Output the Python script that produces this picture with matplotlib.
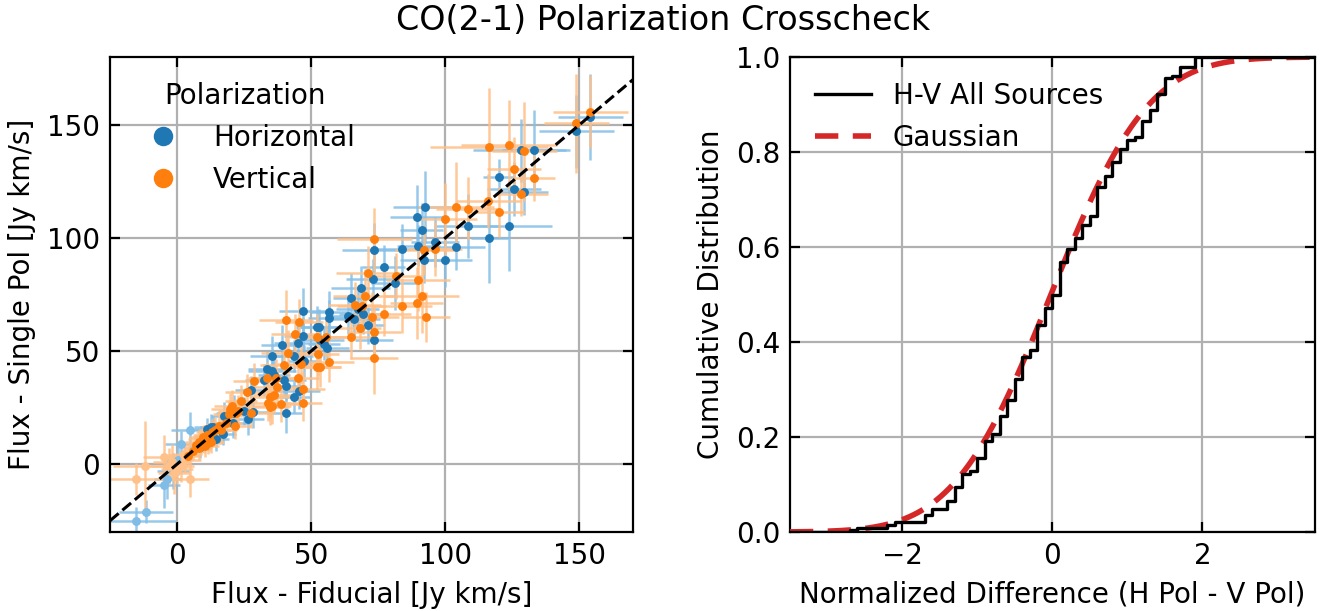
import math
import numpy as np
import matplotlib
matplotlib.use("Agg")
import matplotlib.pyplot as plt
from matplotlib.lines import Line2D
from matplotlib.colors import to_rgba

# ---------------- data: left panel ----------------
# Horizontal polarization (detected)
h_x = [154.1, 148.9, 128.4, 133.0, 120.1, 125.7, 129.5, 123.8, 116.5, 108.4,
       92.6, 89.3, 91.2, 96.3, 104.0, 99.9, 92.2, 89.9, 83.9, 73.5,
       77.1, 81.3, 72.9, 68.5, 65.0, 63.9, 65.8, 69.5, 67.4, 71.3,
       73.5, 56.8, 56.8, 47.1, 52.2, 53.0, 53.2, 54.7, 56.0, 46.8,
       45.2, 39.2, 43.7, 47.5, 35.3, 33.6, 35.4, 36.2, 39.9, 40.8,
       43.6, 45.4, 40.6, 32.5, 27.6, 25.0, 26.3, 21.4, 17.6, 20.7,
       28.5, 17.0, 12.5, 11.3, 8.7, 14.5, 10.0, 13.5]
h_y = [153.4, 147.1, 138.7, 138.7, 127.0, 121.8, 120.1, 105.4, 100.1, 105.3,
       113.8, 109.4, 103.5, 98.1, 95.9, 90.3, 90.3, 96.6, 95.0, 94.6,
       87.0, 80.1, 81.8, 77.7, 73.3, 65.7, 64.3, 66.6, 68.4, 61.3,
       54.8, 67.4, 64.5, 67.9, 60.7, 60.7, 54.8, 53.0, 51.5, 56.8,
       53.7, 52.5, 47.8, 45.6, 47.8, 41.9, 41.2, 39.4, 37.3, 34.5,
       29.7, 32.3, 22.7, 37.3, 33.0, 23.5, 20.0, 22.4, 21.3, 18.4,
       22.9, 13.3, 16.3, 15.5, 7.5, 11.0, 9.5, 16.5]
h_xerr = [12, 14, 18, 12, 6, 10, 9, 16, 7, 12,
          12, 10, 8, 9, 11, 10, 9, 8, 11, 12,
          8, 9, 10, 11, 7, 8, 10, 9, 8, 6,
          7, 7, 8, 9, 8, 7, 9, 6, 8, 7,
          9, 8, 7, 6, 8, 7, 9, 6, 8, 7,
          6, 8, 6, 7, 6, 5, 6, 7, 5, 6,
          6, 5, 6, 5, 4, 5, 4, 5]
h_yerr = [19, 16, 14, 18, 8, 12, 10, 20, 20, 14,
          16, 14, 12, 11, 10, 12, 10, 9, 11, 12,
          10, 12, 9, 10, 11, 8, 9, 9, 10, 8,
          9, 9, 8, 10, 9, 8, 8, 7, 9, 8,
          8, 9, 7, 7, 9, 8, 7, 8, 7, 6,
          7, 8, 9, 7, 6, 6, 7, 8, 6, 7,
          7, 5, 6, 5, 5, 5, 4, 5]

# Horizontal polarization (faint / low S/N)
hf_x = [-15.4, -11.6, -4.8, -3.6, 4.8, 1.6, 0.5, -1.5]
hf_y = [-25.0, -21.0, -9.3, -6.6, 15.0, 8.8, 2.0, -3.0]
hf_xerr = [15, 10, 6, 5, 7, 6, 5, 6]
hf_yerr = [6, 5, 10, 9, 8, 6, 7, 8]

# Vertical polarization (detected)
v_x = [154.1, 148.9, 116.5, 123.8, 129.5, 125.7, 133.0, 128.4, 116.1, 119.9,
       108.4, 104.0, 99.9, 96.3, 92.2, 73.5, 71.3, 81.5, 89.9, 91.2,
       89.3, 83.9, 77.1, 92.7, 70.1, 66.2, 68.8, 72.8, 73.4, 65.0,
       68.2, 73.5, 40.7, 45.5, 44.0, 52.2, 55.4, 52.4, 56.8, 52.2,
       53.2, 41.3, 46.2, 40.0, 36.8, 45.1, 47.1, 37.4, 34.8, 34.8,
       47.1, 28.8, 26.0, 22.8, 21.5, 19.6, 33.6, 36.1, 34.0, 38.9,
       23.7, 20.6, 19.3, 21.8, 18.1, 27.4, 35.4, 6.0, 7.0, 8.0,
       9.0, 9.5, 10.0, 11.0, 12.0, 12.5, 13.0, 8.0, 10.5, 14.0,
       15.5, 4.2, 16.5, 11.5]
v_y = [155.9, 150.7, 140.2, 141.2, 138.3, 130.5, 126.5, 119.6, 116.3, 111.6,
       112.9, 113.8, 108.5, 95.2, 94.7, 99.4, 84.5, 83.2, 81.5, 74.2,
       71.3, 70.1, 66.6, 65.0, 74.2, 70.4, 69.8, 65.0, 58.4, 56.3,
       60.1, 46.8, 63.8, 62.9, 57.6, 56.3, 56.2, 48.8, 45.2, 43.0,
       43.0, 49.3, 44.4, 43.7, 38.3, 38.3, 33.1, 33.9, 29.5, 25.1,
       27.0, 36.8, 31.7, 23.6, 17.0, 24.3, 38.2, 30.4, 27.2, 26.5,
       27.9, 25.7, 22.0, 22.8, 18.4, 22.8, 25.7, 6.0, 8.5, 10.0,
       9.0, 12.0, 11.0, 13.0, 12.0, 10.0, 14.0, 7.0, 8.0, 15.0,
       17.0, 3.8, 15.0, 9.5]
v_xerr = [14, 12, 22, 18, 12, 10, 8, 10, 12, 10,
          12, 14, 12, 10, 11, 14, 12, 10, 12, 14,
          10, 11, 10, 9, 12, 10, 9, 10, 10, 9,
          8, 9, 10, 9, 9, 10, 9, 8, 9, 9,
          8, 10, 9, 9, 8, 8, 8, 9, 8, 7,
          7, 8, 8, 7, 6, 7, 7, 7, 8, 7,
          6, 7, 6, 6, 6, 7, 7, 4, 5, 5,
          5, 5, 6, 5, 6, 5, 6, 5, 5, 6,
          6, 4, 6, 5]
v_yerr = [16, 22, 26, 20, 22, 14, 10, 10, 12, 11,
          14, 20, 16, 12, 11, 14, 12, 10, 14, 16,
          16, 12, 10, 11, 12, 10, 9, 11, 12, 10,
          9, 16, 13, 10, 9, 10, 9, 10, 9, 10,
          9, 10, 9, 9, 8, 10, 8, 8, 9, 8,
          8, 8, 8, 7, 6, 7, 7, 8, 8, 8,
          7, 7, 6, 6, 6, 7, 8, 4, 5, 5,
          5, 5, 6, 5, 6, 5, 6, 5, 5, 6,
          7, 4, 6, 5]

# Vertical polarization (faint / low S/N)
vf_x = [-15.4, -12.0, -4.8, -2.0, 0.0, 2.5, 4.8, -1.0, 1.5, 3.0, -3.0]
vf_y = [-6.6, -1.0, 3.0, 1.0, -2.0, 4.0, -6.6, -4.0, -1.0, 2.0, -1.0]
vf_xerr = [15, 12, 8, 7, 6, 6, 7, 6, 5, 6, 7]
vf_yerr = [7, 20, 10, 8, 7, 6, 8, 9, 7, 6, 8]

# ---------------- data: right panel ----------------
# cumulative distribution of normalized H-V difference (bin edge, level after edge)
cdf_edges = [-2.7, -2.6, -2.2, -2.1, -1.7, -1.6, -1.4, -1.3, -1.2, -1.1,
             -1.0, -0.9, -0.8, -0.7, -0.6, -0.5, -0.4, -0.3, -0.2, -0.1,
             0.0, 0.1, 0.2, 0.3, 0.4, 0.5, 0.6, 0.7, 0.8, 0.9,
             1.0, 1.1, 1.2, 1.3, 1.4, 1.5, 1.6, 1.7, 1.9]
cdf_levels = [0.004, 0.008, 0.014, 0.021, 0.036, 0.048, 0.065, 0.095, 0.123, 0.128,
              0.156, 0.192, 0.207, 0.244, 0.277, 0.323, 0.368, 0.384, 0.436, 0.472,
              0.499, 0.568, 0.596, 0.619, 0.647, 0.665, 0.727, 0.750, 0.778, 0.807,
              0.826, 0.832, 0.865, 0.888, 0.923, 0.955, 0.961, 0.979, 1.0]
gauss_mu = -0.02
gauss_sigma = 1.02

# ---------------- figure ----------------
plt.rcParams['font.family'] = ['DejaVu Sans']
plt.rcParams['font.size'] = 10

fig = plt.figure(figsize=(6.635, 3.055), dpi=200)
ax1 = fig.add_axes([0.0829, 0.1293, 0.3941, 0.7774])
ax2 = fig.add_axes([0.5953, 0.1293, 0.3956, 0.7774])

blue = '#1f77b4'
orange = '#ff7f0e'

for ax in (ax1, ax2):
    ax.grid(True, color='#b0b0b0', linewidth=0.8)
    ax.set_axisbelow(True)
    ax.tick_params(direction='in', top=True, right=True, length=3.5, width=0.8,
                   labelsize=10)

# error bars (light)
for xs, ys, xe, ye, c in [(h_x, h_y, h_xerr, h_yerr, '#85bfe6'),
                          (hf_x, hf_y, hf_xerr, hf_yerr, '#85bfe6'),
                          (v_x, v_y, v_xerr, v_yerr, '#ffbf87'),
                          (vf_x, vf_y, vf_xerr, vf_yerr, '#ffbf87')]:
    ax1.errorbar(xs, ys, xerr=xe, yerr=ye, fmt='none', ecolor=to_rgba(c, 0.85),
                 elinewidth=0.9, capsize=0, zorder=2)

# markers
ax1.plot(hf_x, hf_y, 'o', color='#7fbce6', mec='none', ms=3.2, zorder=3)
ax1.plot(vf_x, vf_y, 'o', color='#ffc08a', mec='none', ms=3.2, zorder=3)
ax1.plot(h_x, h_y, 'o', color=blue, mec='none', ms=3.2, zorder=4)
ax1.plot(v_x, v_y, 'o', color=orange, mec='none', ms=3.2, zorder=5)

ax1.axline((0, 0), slope=1, color='black', ls='--', lw=1.1, zorder=6)

ax1.set_xlim(-25, 170)
ax1.set_ylim(-30, 180)
ax1.set_xticks([0, 50, 100, 150])
ax1.set_yticks([0, 50, 100, 150])
ax1.set_xlabel('Flux - Fiducial [Jy km/s]')
ax1.set_ylabel('Flux - Single Pol [Jy km/s]')

handles = [Line2D([], [], marker='o', ls='', color=blue, ms=6),
           Line2D([], [], marker='o', ls='', color=orange, ms=6)]
ax1.legend(handles, ['Horizontal', 'Vertical'], title='Polarization',
           loc='upper left', frameon=False, fontsize=10, title_fontsize=10)

# right panel
xg = np.linspace(-3.5, 3.5, 400)
cdf_g = [0.5 * (1 + math.erf((v - gauss_mu) / (gauss_sigma * math.sqrt(2)))) for v in xg]
sx = [-3.5] + cdf_edges + [3.5]
sy = [0.0] + cdf_levels + [1.0]
l1, = ax2.step(sx, sy, where='post', color='black', lw=1.2, zorder=4)
l2, = ax2.plot(xg, cdf_g, color='#d62728', lw=2.0, dashes=(4.2, 2.6), zorder=3)
ax2.set_xlim(-3.5, 3.5)
ax2.set_ylim(0, 1)
ax2.set_xticks([-2, 0, 2])
ax2.set_yticks([0.0, 0.2, 0.4, 0.6, 0.8, 1.0])
ax2.set_xlabel('Normalized Difference (H Pol - V Pol)')
ax2.set_ylabel('Cumulative Distribution')
ax2.legend([l1, l2], ['H-V All Sources', 'Gaussian'], loc='upper left',
           frameon=False, fontsize=10)

fig.text(0.5, 0.966, 'CO(2-1) Polarization Crosscheck', ha='center', va='center',
         fontsize=12)

fig.savefig('out.png', dpi=200)
